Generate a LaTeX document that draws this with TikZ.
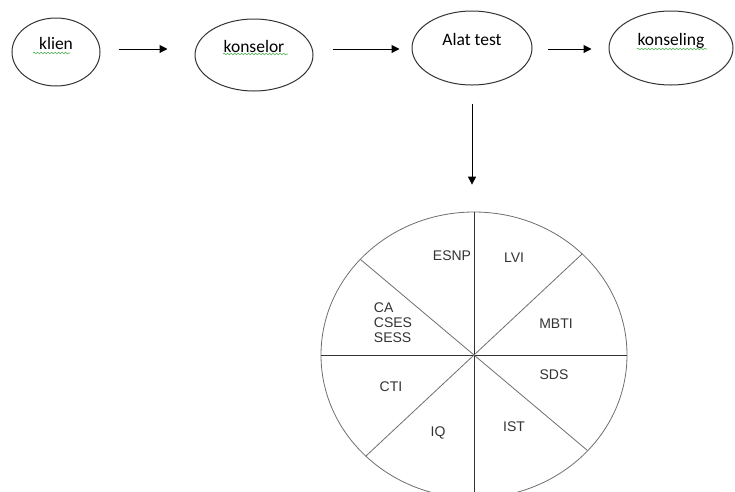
\documentclass[tikz,border=0pt]{standalone}
\usepackage{fontspec}
\setmainfont{Carlito}
\newfontfamily\pielabelfont{Liberation Sans}
\usetikzlibrary{arrows.meta,positioning,shapes.geometric,decorations.pathmorphing}
\definecolor{inkgray}{HTML}{333333}
\definecolor{linegray}{HTML}{6E6E6E}
\definecolor{spellgreen}{HTML}{4CAF50}

\begin{document}
\begin{tikzpicture}[
    x=1pt, y=-1pt,
    stage/.style={ellipse, draw=inkgray, line width=1pt, inner sep=0pt,
        text height=10pt, text depth=16pt, font=\fontsize{17.5}{20}\selectfont},
    flow/.style={-{Triangle[length=8pt,width=8pt]}, line width=1pt},
    slice/.style={font=\pielabelfont\fontsize{14}{15}\selectfont, text=inkgray, inner sep=0pt},
    squiggle/.style={spellgreen, line width=0.6pt, decorate,
        decoration={snake, amplitude=0.8pt, segment length=3.5pt}}
]
    \useasboundingbox (0,0) rectangle (735,491);

    % === PROCESS FLOW ===
    \node[stage, minimum width=88pt, minimum height=68pt] (klien) at (56,52) {klien};
    \node[stage, minimum width=118pt, minimum height=72pt] (konselor) at (254,55) {konselor};
    \node[stage, minimum width=120pt, minimum height=74pt] (alat) at (472,48) {Alat test};
    \node[stage, minimum width=124pt, minimum height=74pt] (konseling) at (671,48) {konseling};

    % spelling marks under the words
    \draw[squiggle] ([xshift=-23pt,yshift=-1pt]klien.center) -- ++(37,0);
    \draw[squiggle] ([xshift=-31pt,yshift=1pt]konselor.center) -- ++(65,0);
    \draw[squiggle] ([xshift=-34pt,yshift=-1pt]konseling.center) -- ++(70,0);

    \draw[flow, shorten <=18pt, shorten >=27pt]
        ([yshift=3pt]klien.east) -- ([yshift=3pt]klien.east -| konselor.west);
    \draw[flow, shorten <=19pt, shorten >=12pt]
        ([yshift=6pt]konselor.east) -- ([yshift=6pt]konselor.east -| alat.west);
    \draw[flow, shorten <=15pt, shorten >=17pt]
        ([yshift=-1pt]alat.east) -- ([yshift=-1pt]alat.east -| konseling.west);

    % === TEST INSTRUMENTS ===
    \begin{scope}
        \clip (0,0) rectangle (735,491);
        \node[ellipse, draw=linegray, line width=0.8pt, inner sep=0pt,
              minimum width=306pt, minimum height=286pt] (pie) at (474,355) {};
        \draw[inkgray, line width=0.9pt] (pie.north) -- (pie.south);
        \draw[inkgray, line width=0.9pt] (pie.west) -- (pie.east);
        \foreach \a/\b in {45/225, 138/318}
            \draw[linegray, line width=0.8pt]
                ([shift={(\a:153pt and 143pt)}]pie.center) -- ([shift={(\b:153pt and 143pt)}]pie.center);
    \end{scope}

    \draw[flow, shorten <=18pt, shorten >=27pt] (alat.south) -- (alat.south |- pie.north);

    \node[slice] (esnp) at (452,256) {ESNP};
    \node[slice] (lvi) at (514,258) {LVI};
    \node[slice] (mbti) at (556,324) {MBTI};
    \node[slice, align=left] (career) at (393,323) {CA\\CSES\\SESS};
    \node[slice] (sds) at (554,375) {SDS};
    \node[slice] (cti) at (391,387) {CTI};
    \node[slice] (iq) at (438,433) {IQ};
    \node[slice] (ist) at (514,427) {IST};
\end{tikzpicture}
\end{document}
